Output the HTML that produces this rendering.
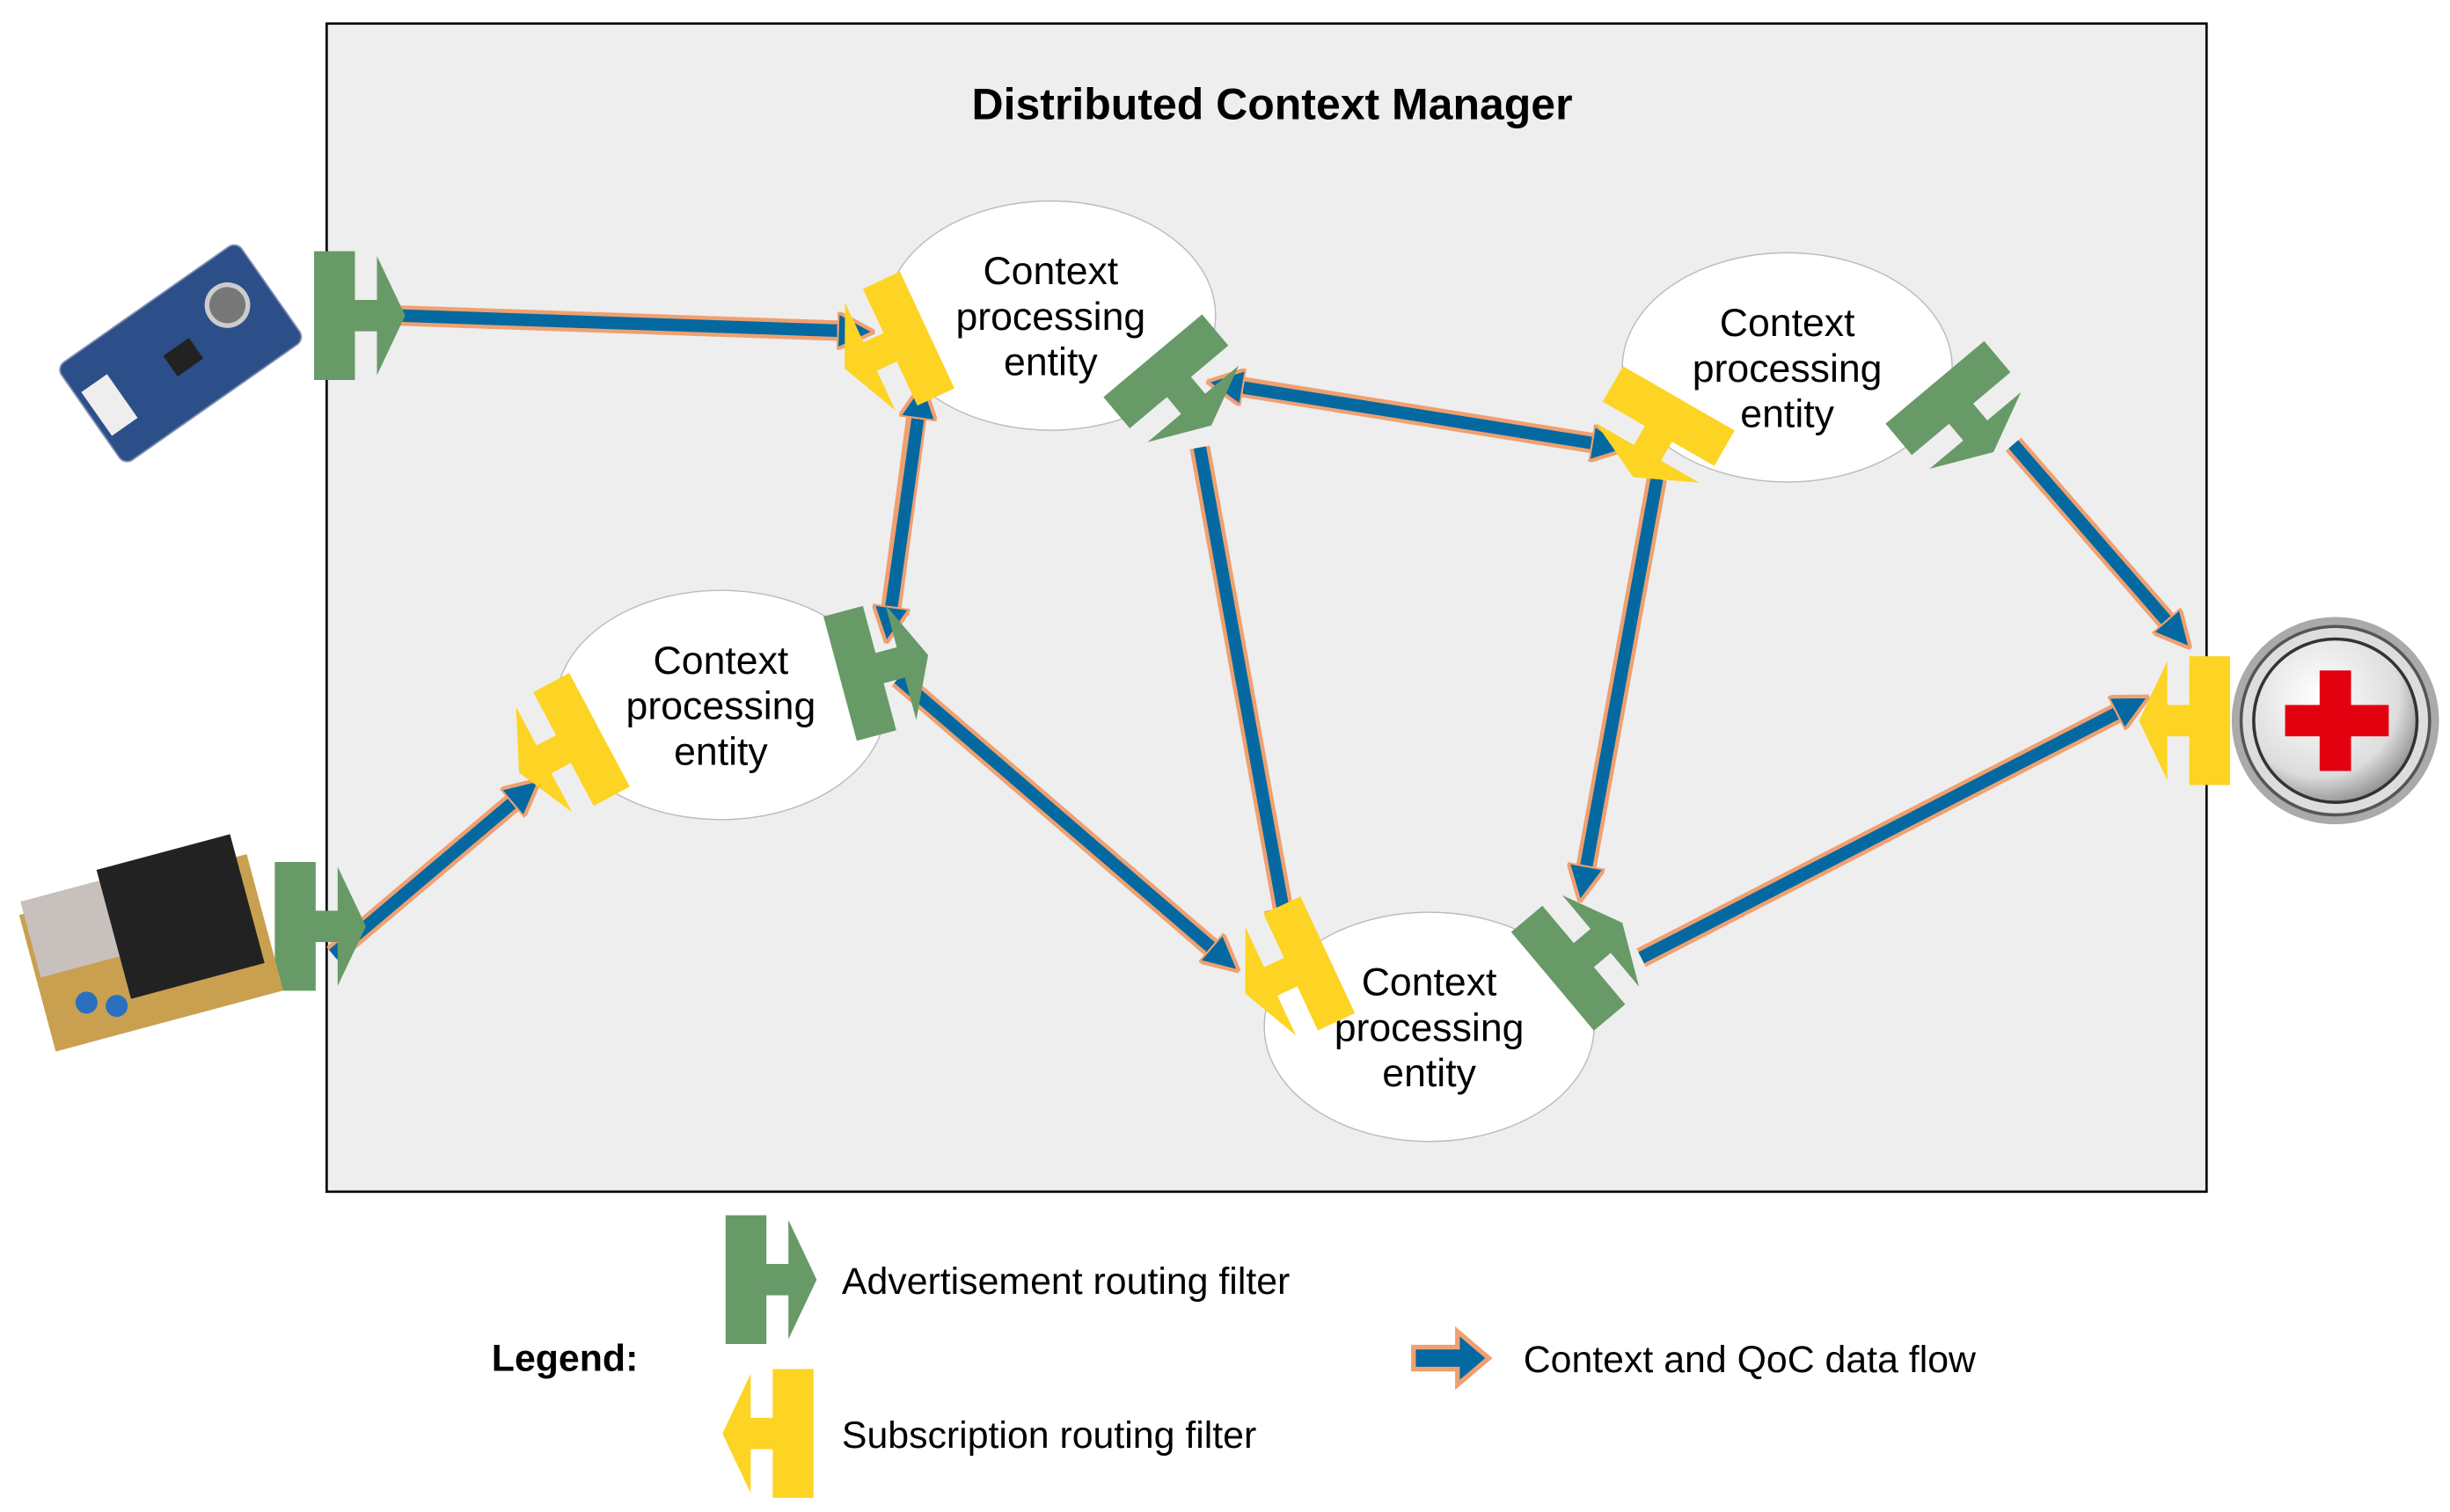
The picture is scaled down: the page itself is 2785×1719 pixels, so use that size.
<!DOCTYPE html>
<html><head><meta charset="utf-8"><style>
html,body{margin:0;padding:0;background:#fff;}
svg{display:block;font-family:"Liberation Sans",sans-serif;}
</style></head><body>
<svg width="2785" height="1719" viewBox="0 0 1560 963" preserveAspectRatio="none" xmlns="http://www.w3.org/2000/svg">
<defs>
<marker id="ah" markerWidth="3" markerHeight="3" refX="1.5" refY="1.5" orient="auto" markerUnits="strokeWidth">
<path d="M0,0 L3,1.5 L0,3 Z" fill="#0569a1" stroke="#f0a070" stroke-width="0.3"/>
</marker>
<g id="grn"><path d="M-28,-41 H-2 V-10 H12 V-38 L30,0 L12,38 V10 H-2 V41 H-28 Z" fill="#679a67"/></g>
<g id="yel"><path d="M28,-41 H2 V-10 H-12 V-38 L-30,0 L-12,38 V10 H2 V41 H28 Z" fill="#fdd423"/></g>
<radialGradient id="hg" cx="0.4" cy="0.35" r="0.7"><stop offset="0" stop-color="#fff"/><stop offset="0.7" stop-color="#ddd"/><stop offset="1" stop-color="#888"/></radialGradient>
</defs>
<rect x="208" y="15" width="1197" height="744" fill="#eeeeee" stroke="#000" stroke-width="1.5"/>
<text x="810" y="76" font-size="28" font-weight="bold" text-anchor="middle">Distributed Context Manager</text>

<g fill="#fff" stroke="#bbb" stroke-width="0.8">
<ellipse cx="669" cy="201" rx="105" ry="73"/>
<ellipse cx="1138" cy="234" rx="105" ry="73"/>
<ellipse cx="459" cy="449" rx="105" ry="73"/>
<ellipse cx="910" cy="654" rx="105" ry="73"/>
</g>
<g font-size="25" text-anchor="middle">
<text x="669" y="181">Context</text><text x="669" y="210">processing</text><text x="669" y="239">entity</text>
<text x="1138" y="214">Context</text><text x="1138" y="243">processing</text><text x="1138" y="272">entity</text>
<text x="459" y="429">Context</text><text x="459" y="458">processing</text><text x="459" y="487">entity</text>
<text x="910" y="634">Context</text><text x="910" y="663">processing</text><text x="910" y="692">entity</text>
</g>

<g stroke-linecap="butt">
<g stroke="#f0a070" stroke-width="13" fill="none">
<line x1="255" y1="201" x2="545" y2="211"/>
<line x1="585" y1="255" x2="566" y2="398"/>
<line x1="782" y1="245" x2="1025" y2="284"/>
<line x1="764" y1="285" x2="819" y2="590"/>
<line x1="1055" y1="305" x2="1008" y2="563"/>
<line x1="572" y1="432" x2="780" y2="611"/>
<line x1="212" y1="608" x2="335" y2="504"/>
<line x1="1282" y1="283" x2="1387" y2="404"/>
<line x1="1045" y1="610" x2="1358" y2="449"/>
</g>
<g stroke="#0569a1" stroke-width="8" fill="none" marker-end="url(#ah)">
<line x1="255" y1="201" x2="545" y2="211"/>
<line x1="577" y1="320" x2="566" y2="398"/>
<line x1="577" y1="320" x2="586" y2="255"/>
<line x1="900" y1="264" x2="1025" y2="284"/>
<line x1="900" y1="264" x2="780" y2="245"/>
<line x1="764" y1="285" x2="819" y2="590"/>
<line x1="1055" y1="305" x2="1008" y2="563"/>
<line x1="572" y1="432" x2="780" y2="611"/>
<line x1="212" y1="608" x2="335" y2="504"/>
<line x1="1282" y1="283" x2="1387" y2="404"/>
<line x1="1045" y1="610" x2="1358" y2="449"/>
</g>
</g>

<use href="#grn" transform="translate(228,201)"/>
<use href="#grn" transform="translate(203,590)"/>
<use href="#grn" transform="translate(752,248) rotate(50)"/>
<use href="#grn" transform="translate(562,425) rotate(-15)"/>
<use href="#grn" transform="translate(1010,607) rotate(-40)"/>
<use href="#grn" transform="translate(1250,265) rotate(50)"/>
<use href="#yel" transform="translate(565,222) rotate(-25)"/>
<use href="#yel" transform="translate(357,478) rotate(-28)"/>
<use href="#yel" transform="translate(1055,278) rotate(-60)"/>
<use href="#yel" transform="translate(820,620) rotate(-25)"/>
<use href="#yel" transform="translate(1392,459)"/>

<g transform="translate(115,225) rotate(-35)">
<rect x="-70" y="-38" width="140" height="76" rx="6" fill="#2c4f8a" stroke="#7d8fb0"/>
<circle cx="42" cy="-8" r="13" fill="#777" stroke="#ccc" stroke-width="3"/>
<rect x="-66" y="-16" width="20" height="34" fill="#eee"/>
<rect x="-10" y="-5" width="20" height="16" fill="#222"/>
</g>
<g transform="translate(95,602) rotate(-15)">
<rect x="-75" y="-40" width="150" height="90" fill="#c9a050"/>
<rect x="-72" y="-48" width="55" height="50" fill="#c8c0bc"/>
<rect x="-20" y="-55" width="88" height="85" fill="#222"/>
<circle cx="-48" cy="25" r="7" fill="#2a6fc0"/>
<circle cx="-30" cy="32" r="7" fill="#2a6fc0"/>
</g>
<circle cx="1487" cy="459" r="66" fill="#aaa"/>
<circle cx="1487" cy="459" r="60" fill="#ddd" stroke="#555" stroke-width="2"/>
<circle cx="1487" cy="459" r="52" fill="url(#hg)" stroke="#333" stroke-width="2"/>
<path d="M1477,427 h20 v22 h24 v20 h-24 v22 h-20 v-22 h-22 v-20 h22 Z" fill="#e3000f"/>

<use href="#grn" transform="translate(490,815)"/>
<use href="#yel" transform="translate(490,913)"/>
<text x="313" y="873" font-size="24" font-weight="bold">Legend:</text>
<text x="536" y="824" font-size="24">Advertisement routing filter</text>
<text x="536" y="922" font-size="24">Subscription routing filter</text>
<text x="970" y="874" font-size="24">Context and QoC data flow</text>
<path d="M900,858 H928 V848 L948,865 L928,882 V872 H900 Z" fill="#0569a1" stroke="#f0a070" stroke-width="3"/>
</svg>
</body></html>
